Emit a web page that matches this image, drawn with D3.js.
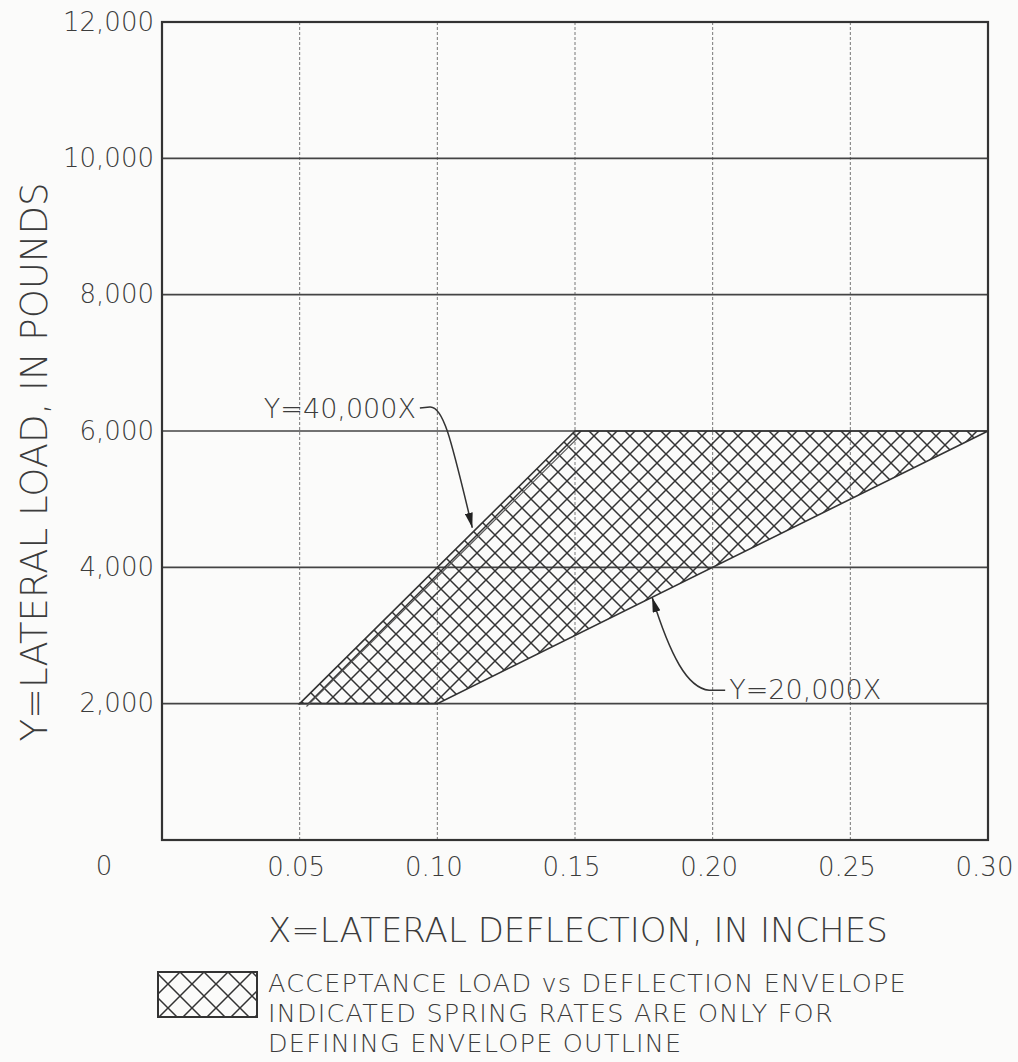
<!DOCTYPE html>
<html>
<head>
<meta charset="utf-8">
<script src="https://cdn.jsdelivr.net/npm/d3@7"></script>
<style>
  body { margin: 0; background: #fbfbfa; }
  svg { display: block; }
  text { font-family: "DejaVu Sans", sans-serif; font-weight: 300; fill: #3c3c3c; }
</style>
</head>
<body>
<div id="rootDiv"></div>
<script>
// values
const xTicks = [0.05, 0.10, 0.15, 0.20, 0.25, 0.30]
const xTickLabels = ["0.05", "0.10", "0.15", "0.20", "0.25", "0.30"]
const yTicks = [2000, 4000, 6000, 8000, 10000, 12000]
const yTickLabels = ["2,000", "4,000", "6,000", "8,000", "10,000", "12,000"]
const envelopeX = [0.05, 0.15, 0.30, 0.10]
const envelopeY = [2000, 6000, 6000, 2000]
const springRates = [40000, 20000]
const rateLabels = ["Y=40,000X", "Y=20,000X"]
const rateArrowX = [0.1127, 0.178]
const xTitle = "X=LATERAL DEFLECTION, IN INCHES"
const yTitle = "Y=LATERAL LOAD, IN POUNDS"
const legendLines = [
    "ACCEPTANCE LOAD vs DEFLECTION ENVELOPE",
    "INDICATED SPRING RATES ARE ONLY FOR",
    "DEFINING ENVELOPE OUTLINE"
]

const W = 1018, H = 1062
const margin = { top: 22, right: 30, bottom: 222, left: 162 }
const width = W - margin.left - margin.right
const height = H - margin.top - margin.bottom
const ink = "#3c3c3c"

const x = d3.scaleLinear().domain([0, 0.30]).range([0, width])
const y = d3.scaleLinear().domain([0, 12000]).range([height, 0])

const svgBase = d3.select("#rootDiv").append("svg")
    .attr("width", W)
    .attr("height", H)

const defs = svgBase.append("defs")

function hatch(id, size) {
    const s = size, h = size / 2
    const p = defs.append("pattern")
        .attr("id", id)
        .attr("patternUnits", "userSpaceOnUse")
        .attr("width", s)
        .attr("height", s)
    p.append("path")
        .attr("d", `M0,0L${s},${s}M${s},0L0,${s}M${-h},${h}L${h},${-h}M${h},${s + h}L${s + h},${h}M${-h},${h}L${h},${s + h}M${h},${-h}L${s + h},${h}`)
        .attr("stroke", "#333")
        .attr("stroke-width", 1.5)
        .attr("fill", "none")
}
hatch("xhatch", 18)
hatch("xhatchLegend", 24)

defs.append("marker")
    .attr("id", "arrow")
    .attr("viewBox", "0 0 15 8")
    .attr("refX", 15)
    .attr("refY", 4)
    .attr("markerWidth", 15)
    .attr("markerHeight", 8)
    .attr("markerUnits", "userSpaceOnUse")
    .attr("orient", "auto")
    .append("path")
    .attr("d", "M0,0L15,4L0,8Z")
    .attr("fill", "#222")

const svg = svgBase.append("g").attr("transform", `translate(${margin.left},${margin.top})`)

// vertical grid (dotted)
svg.append("g")
    .selectAll("line")
    .data(xTicks.slice(0, -1))
    .enter()
    .append("line")
    .attr("x1", d => x(d)).attr("x2", d => x(d))
    .attr("y1", 0).attr("y2", height)
    .attr("stroke", "#777")
    .attr("stroke-width", 1)
    .attr("stroke-dasharray", "3,2")

// horizontal grid (solid)
svg.append("g")
    .selectAll("line")
    .data(yTicks.slice(0, -1))
    .enter()
    .append("line")
    .attr("x1", 0).attr("x2", width)
    .attr("y1", d => y(d)).attr("y2", d => y(d))
    .attr("stroke", "#444")
    .attr("stroke-width", 1.6)

// envelope
const envPts = envelopeX.map((v, i) => [x(v), y(envelopeY[i])])
svg.append("path")
    .attr("d", d3.line()(envPts) + "Z")
    .attr("fill", "url(#xhatch)")
    .attr("stroke", "#333")
    .attr("stroke-width", 1.6)

// second stroke just inside the steep edge
const off = 4
const nx = (envPts[1][1] - envPts[0][1]), ny = -(envPts[1][0] - envPts[0][0])
const nl = Math.hypot(nx, ny)
svg.append("line")
    .attr("x1", envPts[0][0] - nx / nl * off + 4).attr("y1", envPts[0][1] - ny / nl * off)
    .attr("x2", envPts[1][0] - nx / nl * off).attr("y2", envPts[1][1] - ny / nl * off + 4)
    .attr("stroke", "#555")
    .attr("stroke-width", 1.2)

// frame
svg.append("rect")
    .attr("width", width).attr("height", height)
    .attr("fill", "none")
    .attr("stroke", "#333")
    .attr("stroke-width", 2.2)

// axes
const yAxis = svg.append("g")
    .call(d3.axisLeft(y).tickValues(yTicks).tickFormat((d, i) => yTickLabels[i]).tickSize(0).tickPadding(8))
const xAxis = svg.append("g")
    .attr("transform", `translate(0,${height})`)
    .call(d3.axisBottom(x).tickValues(xTicks).tickFormat((d, i) => xTickLabels[i]).tickSize(0).tickPadding(18))
for (const axis of [xAxis, yAxis]) {
    axis.select(".domain").remove()
    axis.selectAll("text")
        .style("font-family", "DejaVu Sans")
        .style("font-weight", 300)
        .style("font-size", "26px")
        .style("fill", ink)
}
xAxis.selectAll("text").attr("dx", -4)

// origin label
svg.append("text")
    .attr("x", x(0) - 58)
    .attr("y", height + 35)
    .attr("text-anchor", "middle")
    .attr("font-size", 26)
    .text("0")

// spring-rate callouts
const lblUpper = { x: 0.037, y: 6190 }
const lblLower = { x: 0.206, y: 2065 }
const tipU = [x(rateArrowX[0]), y(springRates[0] * rateArrowX[0]) - 5]
const tipL = [x(rateArrowX[1]), y(springRates[1] * rateArrowX[1])]

svg.append("text")
    .attr("x", x(lblUpper.x)).attr("y", y(lblUpper.y))
    .attr("font-size", 27)
    .text(rateLabels[0])
const sU = [x(lblUpper.x) + 156, y(lblUpper.y) - 10]
svg.append("path")
    .attr("d", `M${sU[0]},${sU[1]}L${sU[0] + 10},${sU[1] - 1}C${sU[0] + 24},${sU[1] - 2} ${sU[0] + 32},${sU[1] + 35} ${tipU[0]},${tipU[1]}`)
    .attr("fill", "none")
    .attr("stroke", "#333")
    .attr("stroke-width", 1.5)
    .attr("marker-end", "url(#arrow)")

svg.append("text")
    .attr("x", x(lblLower.x)).attr("y", y(lblLower.y))
    .attr("font-size", 27)
    .text(rateLabels[1])
const sL = [x(lblLower.x) - 4, y(lblLower.y) - 9]
svg.append("path")
    .attr("d", `M${sL[0]},${sL[1]}L${sL[0] - 16},${sL[1]}C${sL[0] - 38},${sL[1] - 2} ${sL[0] - 55},${sL[1] - 35} ${tipL[0]},${tipL[1]}`)
    .attr("fill", "none")
    .attr("stroke", "#333")
    .attr("stroke-width", 1.5)
    .attr("marker-end", "url(#arrow)")

// axis titles
svgBase.append("text")
    .attr("x", 268).attr("y", 942)
    .attr("font-size", 34)
    .text(xTitle)

svgBase.append("text")
    .attr("transform", "translate(47,462) rotate(-90)")
    .attr("text-anchor", "middle")
    .attr("font-size", 37)
    .text(yTitle)

// legend
svgBase.append("rect")
    .attr("x", 158).attr("y", 972)
    .attr("width", 99).attr("height", 45)
    .attr("fill", "url(#xhatchLegend)")
    .attr("stroke", "#333")
    .attr("stroke-width", 2)

svgBase.append("g")
    .selectAll("text")
    .data(legendLines)
    .enter()
    .append("text")
    .attr("x", 268)
    .attr("y", (d, i) => 992 + i * 30)
    .attr("font-size", 25.5)
    .attr("letter-spacing", 1.2)
    .text(d => d)
</script>
</body>
</html>
